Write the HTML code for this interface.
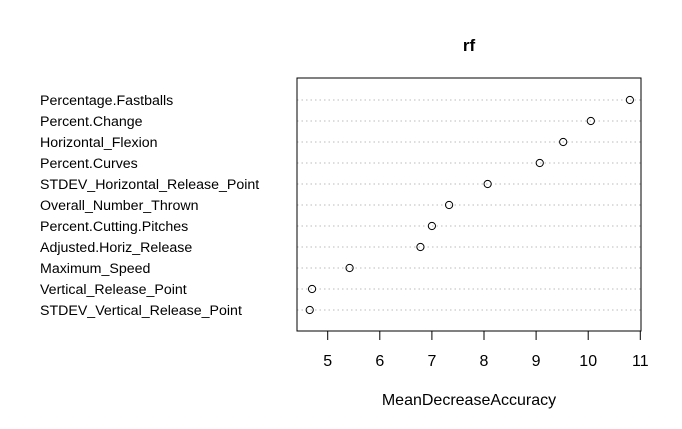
<!DOCTYPE html>
<html><head><meta charset="utf-8"><style>body{margin:0;background:#fff}svg{display:block;font-family:"Liberation Sans",Arial,sans-serif}</style></head>
<body>
<svg id="c" width="682" height="429"></svg>
<script>
const categories=["Percentage.Fastballs","Percent.Change","Horizontal_Flexion","Percent.Curves","STDEV_Horizontal_Release_Point","Overall_Number_Thrown","Percent.Cutting.Pitches","Adjusted.Horiz_Release","Maximum_Speed","Vertical_Release_Point","STDEV_Vertical_Release_Point"];
const values=[10.8,10.05,9.52,9.07,8.07,7.33,7.00,6.78,5.42,4.70,4.655];
const ticks=[5,6,7,8,9,10,11];
const svg=document.getElementById('c');
const NS='http://www.w3.org/2000/svg';
const L=297,R=641,T=78,B=331;
const x=v=>327.7+(v-5)*52.1;
const y=i=>100+i*21;
function mk(t,a,p){const e=document.createElementNS(NS,t);for(const k in a)e.setAttribute(k,a[k]);(p||svg).appendChild(e);return e;}
const title=mk('text',{x:469,y:51,'text-anchor':'middle','font-size':17,'font-weight':'bold'});title.textContent='rf';


categories.forEach((c,i)=>{
 const g=mk('line',{x1:L,x2:R,y1:y(i),y2:y(i),stroke:'#bbb','stroke-dasharray':'1.5 3','stroke-width':1});
 
 
 const t=mk('text',{x:40,y:y(i)+5,'font-size':14.2});t.textContent=c;
 
 
 const p=mk('circle',{cx:x(values[i]),cy:y(i),r:3.6,fill:'none',stroke:'#000','stroke-width':1});
 
 
});
const box=mk('rect',{x:L,y:T,width:R-L,height:B-T,fill:'none',stroke:'#000','stroke-width':1});


ticks.forEach(v=>{
 const l=mk('line',{x1:x(v),x2:x(v),y1:B,y2:B+9,stroke:'#000'});
 
 
 const t=mk('text',{x:x(v),y:366,'text-anchor':'middle','font-size':16});t.textContent=v;
 
 
});
const ax=mk('line',{x1:x(5),x2:x(11),y1:B,y2:B,stroke:'#000'});


const xt=mk('text',{x:469,y:405,'text-anchor':'middle','font-size':16});xt.textContent='MeanDecreaseAccuracy';


</script>
</body></html>
